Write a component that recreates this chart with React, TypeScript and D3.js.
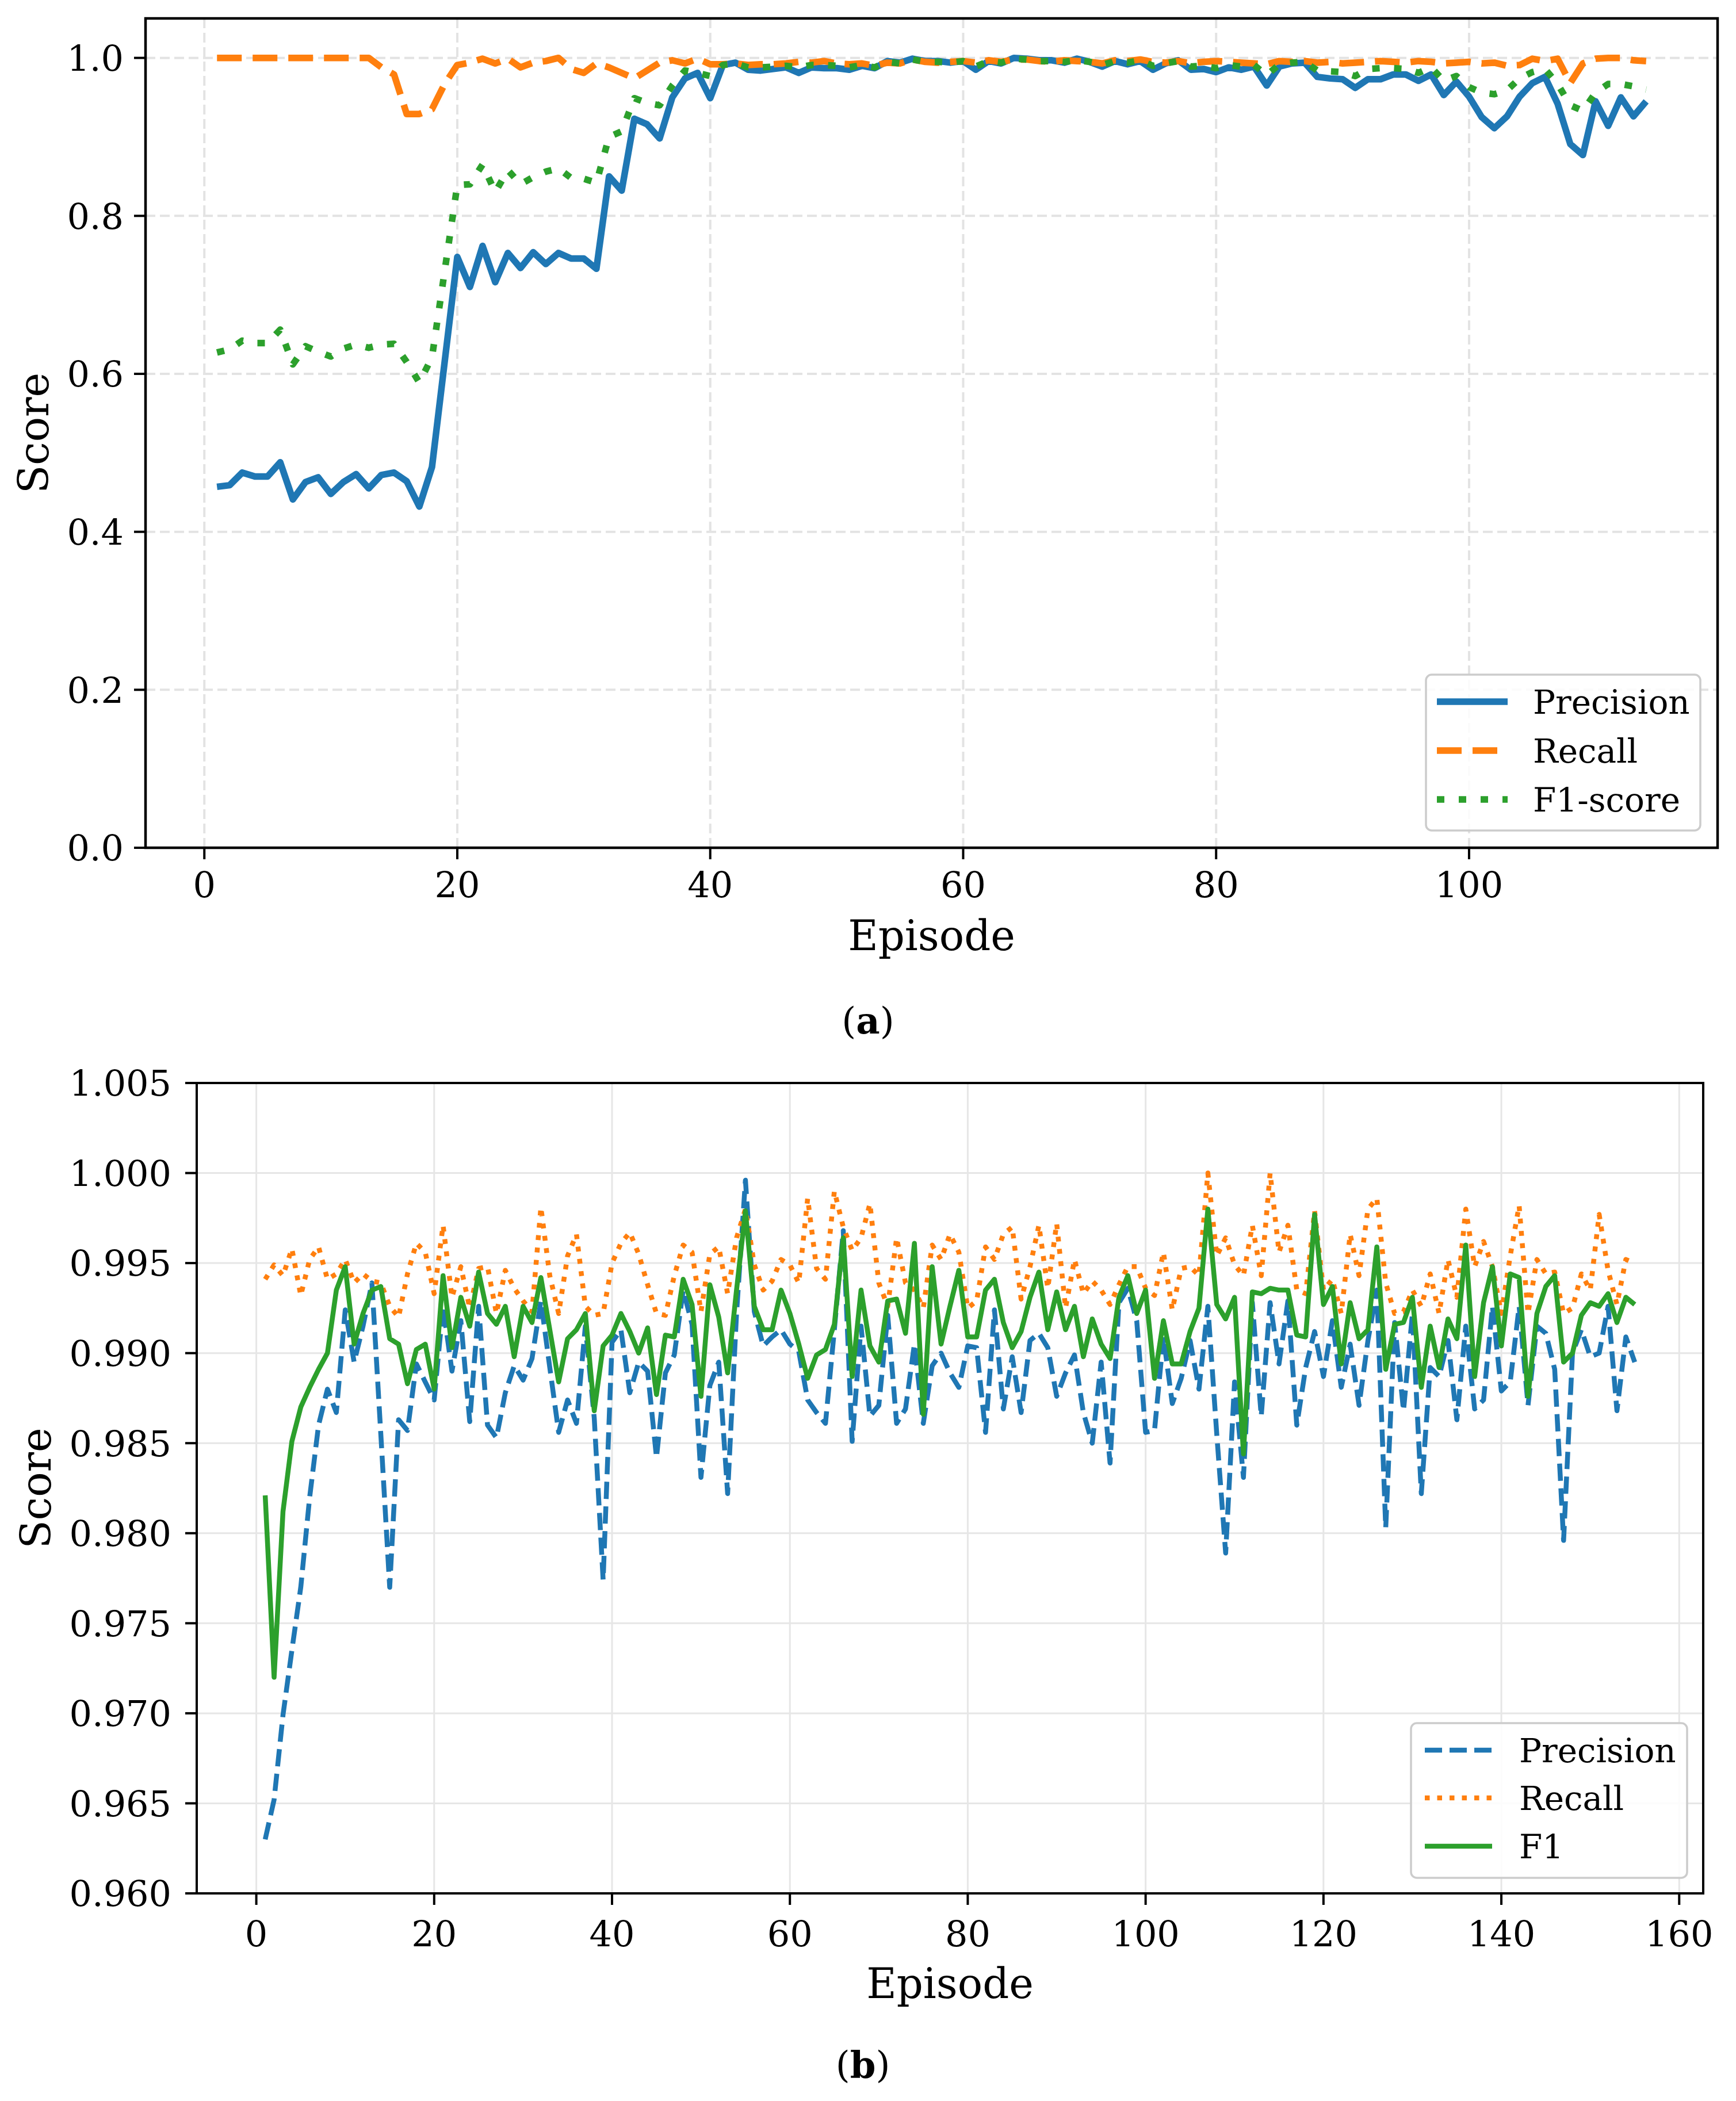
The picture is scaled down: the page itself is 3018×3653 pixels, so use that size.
import React from "react";
import * as d3 from "d3";

// ---- panel (a) ----
const precisionA = [
  0.457, 0.459, 0.475, 0.47, 0.47, 0.488, 0.441, 0.463, 0.469, 0.448,
  0.463, 0.473, 0.455, 0.472, 0.475, 0.464, 0.432, 0.482, 0.615, 0.748,
  0.71, 0.762, 0.716, 0.753, 0.734, 0.754, 0.739, 0.753, 0.746, 0.746,
  0.733, 0.85, 0.832, 0.923, 0.916, 0.898, 0.95, 0.974, 0.981, 0.949,
  0.991, 0.994, 0.985, 0.984, 0.986, 0.988, 0.981, 0.988, 0.987, 0.987,
  0.985, 0.99, 0.987, 0.996, 0.994, 0.999, 0.996, 0.996, 0.994, 0.996,
  0.985, 0.996, 0.993, 1.0, 0.999, 0.997, 0.997, 0.994, 0.999, 0.995,
  0.989, 0.996, 0.992, 0.996, 0.985, 0.993, 0.997, 0.985, 0.986, 0.982,
  0.988, 0.985, 0.989, 0.965, 0.989, 0.993, 0.994, 0.976, 0.974, 0.973,
  0.962, 0.973, 0.973, 0.979, 0.979, 0.971, 0.979, 0.953, 0.97, 0.951,
  0.925, 0.911, 0.926, 0.951, 0.968, 0.976, 0.942, 0.891, 0.877, 0.945,
  0.914, 0.95, 0.926, 0.945,
];
const recallA = [
  1.0, 1.0, 1.0, 1.0, 1.0, 1.0, 1.0, 1.0, 1.0, 1.0,
  1.0, 1.0, 1.0, 0.988, 0.979, 0.929, 0.929, 0.935, 0.967, 0.991,
  0.994, 0.999, 0.993, 0.999, 0.988, 0.994, 0.996, 1.0, 0.986, 0.981,
  0.993, 0.988, 0.981, 0.974, 0.984, 0.994, 0.997, 0.993, 0.999, 0.992,
  0.992, 0.993, 0.991, 0.992, 0.992, 0.993, 0.995, 0.994, 0.996, 0.993,
  0.992, 0.993, 0.99, 0.994, 0.993, 0.998, 0.995, 0.994, 0.995, 0.996,
  0.994, 0.997, 0.995, 0.998, 0.998, 0.996, 0.995, 0.997, 0.996, 0.995,
  0.993, 0.997, 0.996, 0.998, 0.995, 0.994, 0.996, 0.993, 0.995, 0.996,
  0.995, 0.994, 0.993, 0.992, 0.996, 0.995, 0.996, 0.994, 0.995, 0.993,
  0.994, 0.995, 0.996, 0.995, 0.994, 0.996, 0.995, 0.993, 0.994, 0.995,
  0.993, 0.994, 0.99, 0.991, 0.999, 0.996, 0.999, 0.968, 0.993, 0.999,
  1.0, 1.0, 0.997, 0.996,
];
const f1A = [
  0.627, 0.631, 0.642, 0.639, 0.639, 0.656, 0.612, 0.635, 0.628, 0.622,
  0.632, 0.637, 0.633, 0.637, 0.638, 0.615, 0.589, 0.621, 0.73, 0.839,
  0.84, 0.865, 0.83, 0.858, 0.84, 0.849, 0.856, 0.86, 0.848, 0.847,
  0.842, 0.9, 0.907, 0.949, 0.943, 0.94, 0.965, 0.984, 0.981, 0.977,
  0.991, 0.993, 0.988, 0.988, 0.989, 0.99, 0.988, 0.991, 0.991, 0.99,
  0.988, 0.991, 0.988, 0.995, 0.993, 0.998, 0.995, 0.995, 0.994, 0.996,
  0.989, 0.996, 0.994, 0.999, 0.998, 0.996, 0.996, 0.995, 0.997, 0.995,
  0.991, 0.996, 0.994, 0.997, 0.99, 0.993, 0.996, 0.989, 0.99, 0.987,
  0.991, 0.989, 0.991, 0.978, 0.992, 0.994, 0.995, 0.984, 0.983, 0.982,
  0.977, 0.986, 0.987, 0.987, 0.986, 0.981, 0.988, 0.971, 0.977, 0.963,
  0.956, 0.954, 0.959, 0.974, 0.982, 0.986, 0.967, 0.94, 0.933, 0.956,
  0.967, 0.967, 0.964, 0.96,
];
const xTicksA = [0, 20, 40, 60, 80, 100];
const yTicksA = [0, 0.2, 0.4, 0.6, 0.8, 1.0];

// ---- panel (b) ----
const precisionB = [
  0.963, 0.9652, 0.9699, 0.9735, 0.977, 0.982, 0.986, 0.988, 0.9867, 0.9924,
  0.9895, 0.9915, 0.9939, 0.9855, 0.977, 0.9863, 0.9857, 0.9894, 0.9884, 0.9874,
  0.9926, 0.989, 0.9918, 0.9862, 0.9926, 0.986, 0.9853, 0.9878, 0.9893, 0.9885,
  0.9897, 0.9929, 0.9892, 0.9856, 0.9874, 0.9861, 0.9915, 0.9864, 0.9774, 0.9906,
  0.9913, 0.9878, 0.9895, 0.989, 0.9842, 0.9889, 0.9899, 0.9935, 0.9916, 0.9831,
  0.9882, 0.9895, 0.9822, 0.9922, 0.9996, 0.9923, 0.9904, 0.9909, 0.9913, 0.9905,
  0.9901, 0.9874, 0.9867, 0.9861, 0.9913, 0.9968, 0.9851, 0.9915, 0.9865, 0.9871,
  0.9921, 0.9861, 0.9869, 0.9905, 0.9861, 0.9893, 0.99, 0.9889, 0.9881, 0.9904,
  0.9903, 0.9856, 0.9924, 0.9869, 0.9898, 0.9867, 0.9907, 0.9911, 0.9903, 0.9876,
  0.9889, 0.9899, 0.9867, 0.985, 0.9895, 0.9839, 0.9928, 0.9936, 0.9918, 0.9856,
  0.9857, 0.9909, 0.9872, 0.9886, 0.9907, 0.988, 0.9926, 0.9855, 0.9789, 0.9884,
  0.9831, 0.9928, 0.9865, 0.9928, 0.9894, 0.9929, 0.986, 0.9892, 0.9912, 0.9887,
  0.9918, 0.9881, 0.9905, 0.9871, 0.9907, 0.9935, 0.9803, 0.9917, 0.9868, 0.9922,
  0.9822, 0.9892, 0.9887, 0.9907, 0.9863, 0.9915, 0.9869, 0.9874, 0.9926, 0.9879,
  0.9884, 0.9926, 0.9871, 0.9915, 0.9911, 0.9891, 0.9796, 0.99, 0.9913, 0.9898,
  0.99, 0.9926, 0.9868, 0.9909, 0.9895,
];
const recallB = [
  0.9941, 0.9949, 0.9943, 0.9958, 0.9932, 0.9952, 0.9959, 0.9941, 0.9944, 0.9952,
  0.9939, 0.9944, 0.994, 0.9939, 0.9926, 0.992, 0.9944, 0.9961, 0.9956, 0.9933,
  0.9971, 0.9931, 0.9948, 0.9925, 0.9947, 0.9948, 0.9922, 0.9946, 0.9936, 0.9929,
  0.9923, 0.9981, 0.9943, 0.9922, 0.9954, 0.9966, 0.9926, 0.9921, 0.9922, 0.995,
  0.9961, 0.9967, 0.9955, 0.9938, 0.9922, 0.9921, 0.9943, 0.996, 0.9956, 0.9923,
  0.9955, 0.9959, 0.9933, 0.9964, 0.998, 0.9949, 0.9935, 0.994, 0.9952, 0.9949,
  0.9939, 0.9986, 0.9947, 0.9941, 0.999, 0.997, 0.9957, 0.9964, 0.9983, 0.9939,
  0.9926, 0.9964, 0.9939, 0.9935, 0.9925, 0.996, 0.9952, 0.9966, 0.9956, 0.9925,
  0.9929, 0.9959, 0.9952, 0.9966, 0.997, 0.993, 0.9948, 0.9971, 0.9936, 0.9972,
  0.9925, 0.9952, 0.9933, 0.994, 0.9935, 0.9927, 0.9938, 0.9948, 0.9948, 0.9936,
  0.9932, 0.9956, 0.9924, 0.9947, 0.9948, 0.9943, 1.0, 0.9954, 0.9964, 0.9949,
  0.9943, 0.9971, 0.9943, 1.0, 0.9956, 0.9971, 0.9935, 0.9933, 0.9979, 0.9935,
  0.9941, 0.9922, 0.9966, 0.9943, 0.998, 0.9986, 0.9939, 0.9922, 0.9923, 0.9935,
  0.9926, 0.9944, 0.9922, 0.9952, 0.9931, 0.998, 0.9948, 0.9962, 0.9948, 0.9922,
  0.9954, 0.9982, 0.9922, 0.9952, 0.9944, 0.9945, 0.9922, 0.9925, 0.9944, 0.9935,
  0.9977, 0.9946, 0.9927, 0.9952, 0.995,
];
const f1B = [
  0.9821, 0.972, 0.9812, 0.9851, 0.987, 0.9881, 0.9891, 0.99, 0.9935, 0.9948,
  0.9905, 0.9922, 0.9935, 0.9937, 0.9908, 0.9905, 0.9883, 0.9902, 0.9905, 0.988,
  0.9943, 0.9903, 0.9931, 0.9915, 0.9945, 0.9922, 0.9916, 0.9926, 0.9898, 0.9926,
  0.9917, 0.9942, 0.9913, 0.9884, 0.9908, 0.9913, 0.9922, 0.9868, 0.9904, 0.991,
  0.9922, 0.9912, 0.99, 0.9914, 0.9877, 0.991, 0.9909, 0.9941, 0.9927, 0.9876,
  0.9938, 0.992, 0.9889, 0.9935, 0.9979, 0.9926, 0.9913, 0.9913, 0.9935, 0.9922,
  0.9905, 0.9886, 0.9899, 0.9902, 0.9916, 0.9964, 0.9887, 0.9935, 0.9904, 0.9895,
  0.9929, 0.993, 0.9911, 0.9961, 0.9866, 0.9948, 0.9905, 0.9926, 0.9946, 0.9909,
  0.9909, 0.9935, 0.9941, 0.9917, 0.9903, 0.9912, 0.9931, 0.9945, 0.9913, 0.9934,
  0.9913, 0.9926, 0.9898, 0.9919, 0.9905, 0.9897, 0.9931, 0.9943, 0.9922, 0.9935,
  0.9886, 0.9918, 0.9894, 0.9894, 0.9912, 0.9925, 0.998, 0.9927, 0.9919, 0.9931,
  0.9844, 0.9934, 0.9933, 0.9936, 0.9935, 0.9935, 0.991, 0.9909, 0.9977, 0.9927,
  0.9937, 0.9894, 0.9928, 0.9908, 0.9913, 0.9959, 0.9891, 0.9916, 0.9917, 0.9931,
  0.9881, 0.9915, 0.9892, 0.9919, 0.9908, 0.996, 0.9887, 0.9928, 0.9948, 0.9904,
  0.9944, 0.9942, 0.9876, 0.9922, 0.9937, 0.9943, 0.9895, 0.99, 0.9921, 0.9928,
  0.9926, 0.9933, 0.9917, 0.9931, 0.9927,
];
const xTicksB = [0, 20, 40, 60, 80, 100, 120, 140, 160];
const yTicksB = [0.96, 0.965, 0.97, 0.975, 0.98, 0.985, 0.99, 0.995, 1.0, 1.005];

const FONT = "'DejaVu Serif', serif";
const BLUE = "#1f77b4";
const ORANGE = "#ff7f0e";
const GREEN = "#2ca02c";

type Series = { name: string; values: number[]; color: string; dash?: string; width: number };

type PanelProps = {
  id: string;
  left: number;
  right: number;
  top: number;
  bottom: number;
  xDomain: [number, number];
  yDomain: [number, number];
  xTicks: number[];
  yTicks: number[];
  yFormat: (v: number) => string;
  yLabelRight: number;
  xLabelBaseline: number;
  titleBaseline: number;
  scoreX: number;
  gridDash?: string;
  gridWidth: number;
  gridColor: string;
  frameWidth: number;
  series: Series[];
  legend: { x0: number; x1: number; y0: number; y1: number; rows: number[]; h0: number; h1: number; tx: number };
};

function Panel(p: PanelProps) {
  const x = d3.scaleLinear().domain(p.xDomain).range([p.left, p.right]);
  const y = d3.scaleLinear().domain(p.yDomain).range([p.bottom, p.top]);
  const line = d3
    .line<number>()
    .x((_, i) => x(i + 1))
    .y((d) => y(d));
  const tickFont = 62;
  return (
    <g>
      <defs>
        <clipPath id={p.id}>
          <rect x={p.left} y={p.top} width={p.right - p.left} height={p.bottom - p.top} />
        </clipPath>
      </defs>
      {/* grid */}
      <g stroke={p.gridColor} strokeWidth={p.gridWidth} strokeDasharray={p.gridDash}>
        {p.xTicks.map((t) => (
          <line key={"gx" + t} x1={x(t)} x2={x(t)} y1={p.top} y2={p.bottom} />
        ))}
        {p.yTicks.map((t) => (
          <line key={"gy" + t} x1={p.left} x2={p.right} y1={y(t)} y2={y(t)} />
        ))}
      </g>
      {/* lines */}
      <g clipPath={`url(#${p.id})`} fill="none">
        {p.series.map((s) => (
          <path
            key={s.name}
            d={line(s.values) || ""}
            stroke={s.color}
            strokeWidth={s.width}
            strokeDasharray={s.dash}
            strokeLinejoin="round"
          />
        ))}
      </g>
      {/* frame */}
      <rect
        x={p.left}
        y={p.top}
        width={p.right - p.left}
        height={p.bottom - p.top}
        fill="none"
        stroke="#000"
        strokeWidth={p.frameWidth}
      />
      {/* x axis */}
      <g fontFamily={FONT} fontSize={tickFont} textAnchor="middle">
        {p.xTicks.map((t) => (
          <g key={"xt" + t}>
            <line x1={x(t)} x2={x(t)} y1={p.bottom} y2={p.bottom + 20} stroke="#000" strokeWidth={4} />
            <text x={x(t)} y={p.xLabelBaseline}>
              {t}
            </text>
          </g>
        ))}
      </g>
      {/* y axis */}
      <g fontFamily={FONT} fontSize={tickFont} textAnchor="end">
        {p.yTicks.map((t) => (
          <g key={"yt" + t}>
            <line x1={p.left - 20} x2={p.left} y1={y(t)} y2={y(t)} stroke="#000" strokeWidth={4} />
            <text x={p.yLabelRight} y={y(t)} dy="0.36em">
              {p.yFormat(t)}
            </text>
          </g>
        ))}
      </g>
      <text
        x={(p.left + p.right) / 2}
        y={p.titleBaseline}
        fontFamily={FONT}
        fontSize={72}
        textAnchor="middle"
      >
        Episode
      </text>
      <text
        transform={`translate(${p.scoreX},${(p.top + p.bottom) / 2}) rotate(-90)`}
        fontFamily={FONT}
        fontSize={72}
        textAnchor="middle"
      >
        Score
      </text>
      {/* legend */}
      <rect
        x={p.legend.x0}
        y={p.legend.y0}
        width={p.legend.x1 - p.legend.x0}
        height={p.legend.y1 - p.legend.y0}
        rx={10}
        fill="#fff"
        fillOpacity={0.85}
        stroke="#cccccc"
        strokeWidth={3.5}
      />
      {p.series.map((s, i) => (
        <g key={"lg" + s.name}>
          <line
            x1={p.legend.h0}
            x2={p.legend.h1}
            y1={p.legend.rows[i]}
            y2={p.legend.rows[i]}
            stroke={s.color}
            strokeWidth={s.width}
            strokeDasharray={s.dash}
          />
          <text x={p.legend.tx} y={p.legend.rows[i]} dy="0.36em" fontFamily={FONT} fontSize={58}>
            {s.name}
          </text>
        </g>
      ))}
    </g>
  );
}

export default function App() {
  const wA = 11.5;
  const wB = 8.5;
  const seriesA: Series[] = [
    { name: "Precision", values: precisionA, color: BLUE, width: wA },
    { name: "Recall", values: recallA, color: ORANGE, width: wA, dash: "43 19" },
    { name: "F1-score", values: f1A, color: GREEN, width: wA, dash: "13 25" },
  ];
  const seriesB: Series[] = [
    { name: "Precision", values: precisionB, color: BLUE, width: wB, dash: "30 13" },
    { name: "Recall", values: recallB, color: ORANGE, width: wB, dash: "8.5 13" },
    { name: "F1", values: f1B, color: GREEN, width: wB },
  ];
  return (
    <svg
      width={3018}
      height={3653}
      style={{ position: "absolute", left: 0, top: 0, background: "#fff" }}
    >
      <rect width={3018} height={3653} fill="#fff" />
      <Panel
        id="clipA"
        left={253}
        right={2986}
        top={32}
        bottom={1474}
        xDomain={[-4.65, 119.65]}
        yDomain={[0, 1.05]}
        xTicks={xTicksA}
        yTicks={yTicksA}
        yFormat={d3.format(".1f")}
        yLabelRight={215}
        xLabelBaseline={1560}
        titleBaseline={1652}
        scoreX={84}
        gridDash="17 8"
        gridWidth={4}
        gridColor="#e3e3e3"
        frameWidth={4.5}
        series={seriesA}
        legend={{ x0: 2479, x1: 2956, y0: 1173, y1: 1444, rows: [1220, 1305, 1390], h0: 2498, h1: 2621, tx: 2665 }}
      />
      <Panel
        id="clipB"
        left={342}
        right={2961}
        top={1883}
        bottom={3292}
        xDomain={[-6.7, 162.7]}
        yDomain={[0.96, 1.005]}
        xTicks={xTicksB}
        yTicks={yTicksB}
        yFormat={d3.format(".3f")}
        yLabelRight={298}
        xLabelBaseline={3384}
        titleBaseline={3474}
        scoreX={88}
        gridWidth={3}
        gridColor="#e6e6e6"
        frameWidth={4}
        series={seriesB}
        legend={{ x0: 2453, x1: 2933, y0: 2996, y1: 3265, rows: [3043, 3126, 3210], h0: 2477, h1: 2594, tx: 2641 }}
      />
      <text x={1509} y={1797} fontFamily={FONT} fontSize={64} textAnchor="middle">
        (<tspan fontWeight="bold">a</tspan>)
      </text>
      <text x={1500} y={3612} fontFamily={FONT} fontSize={64} textAnchor="middle">
        (<tspan fontWeight="bold">b</tspan>)
      </text>
    </svg>
  );
}
